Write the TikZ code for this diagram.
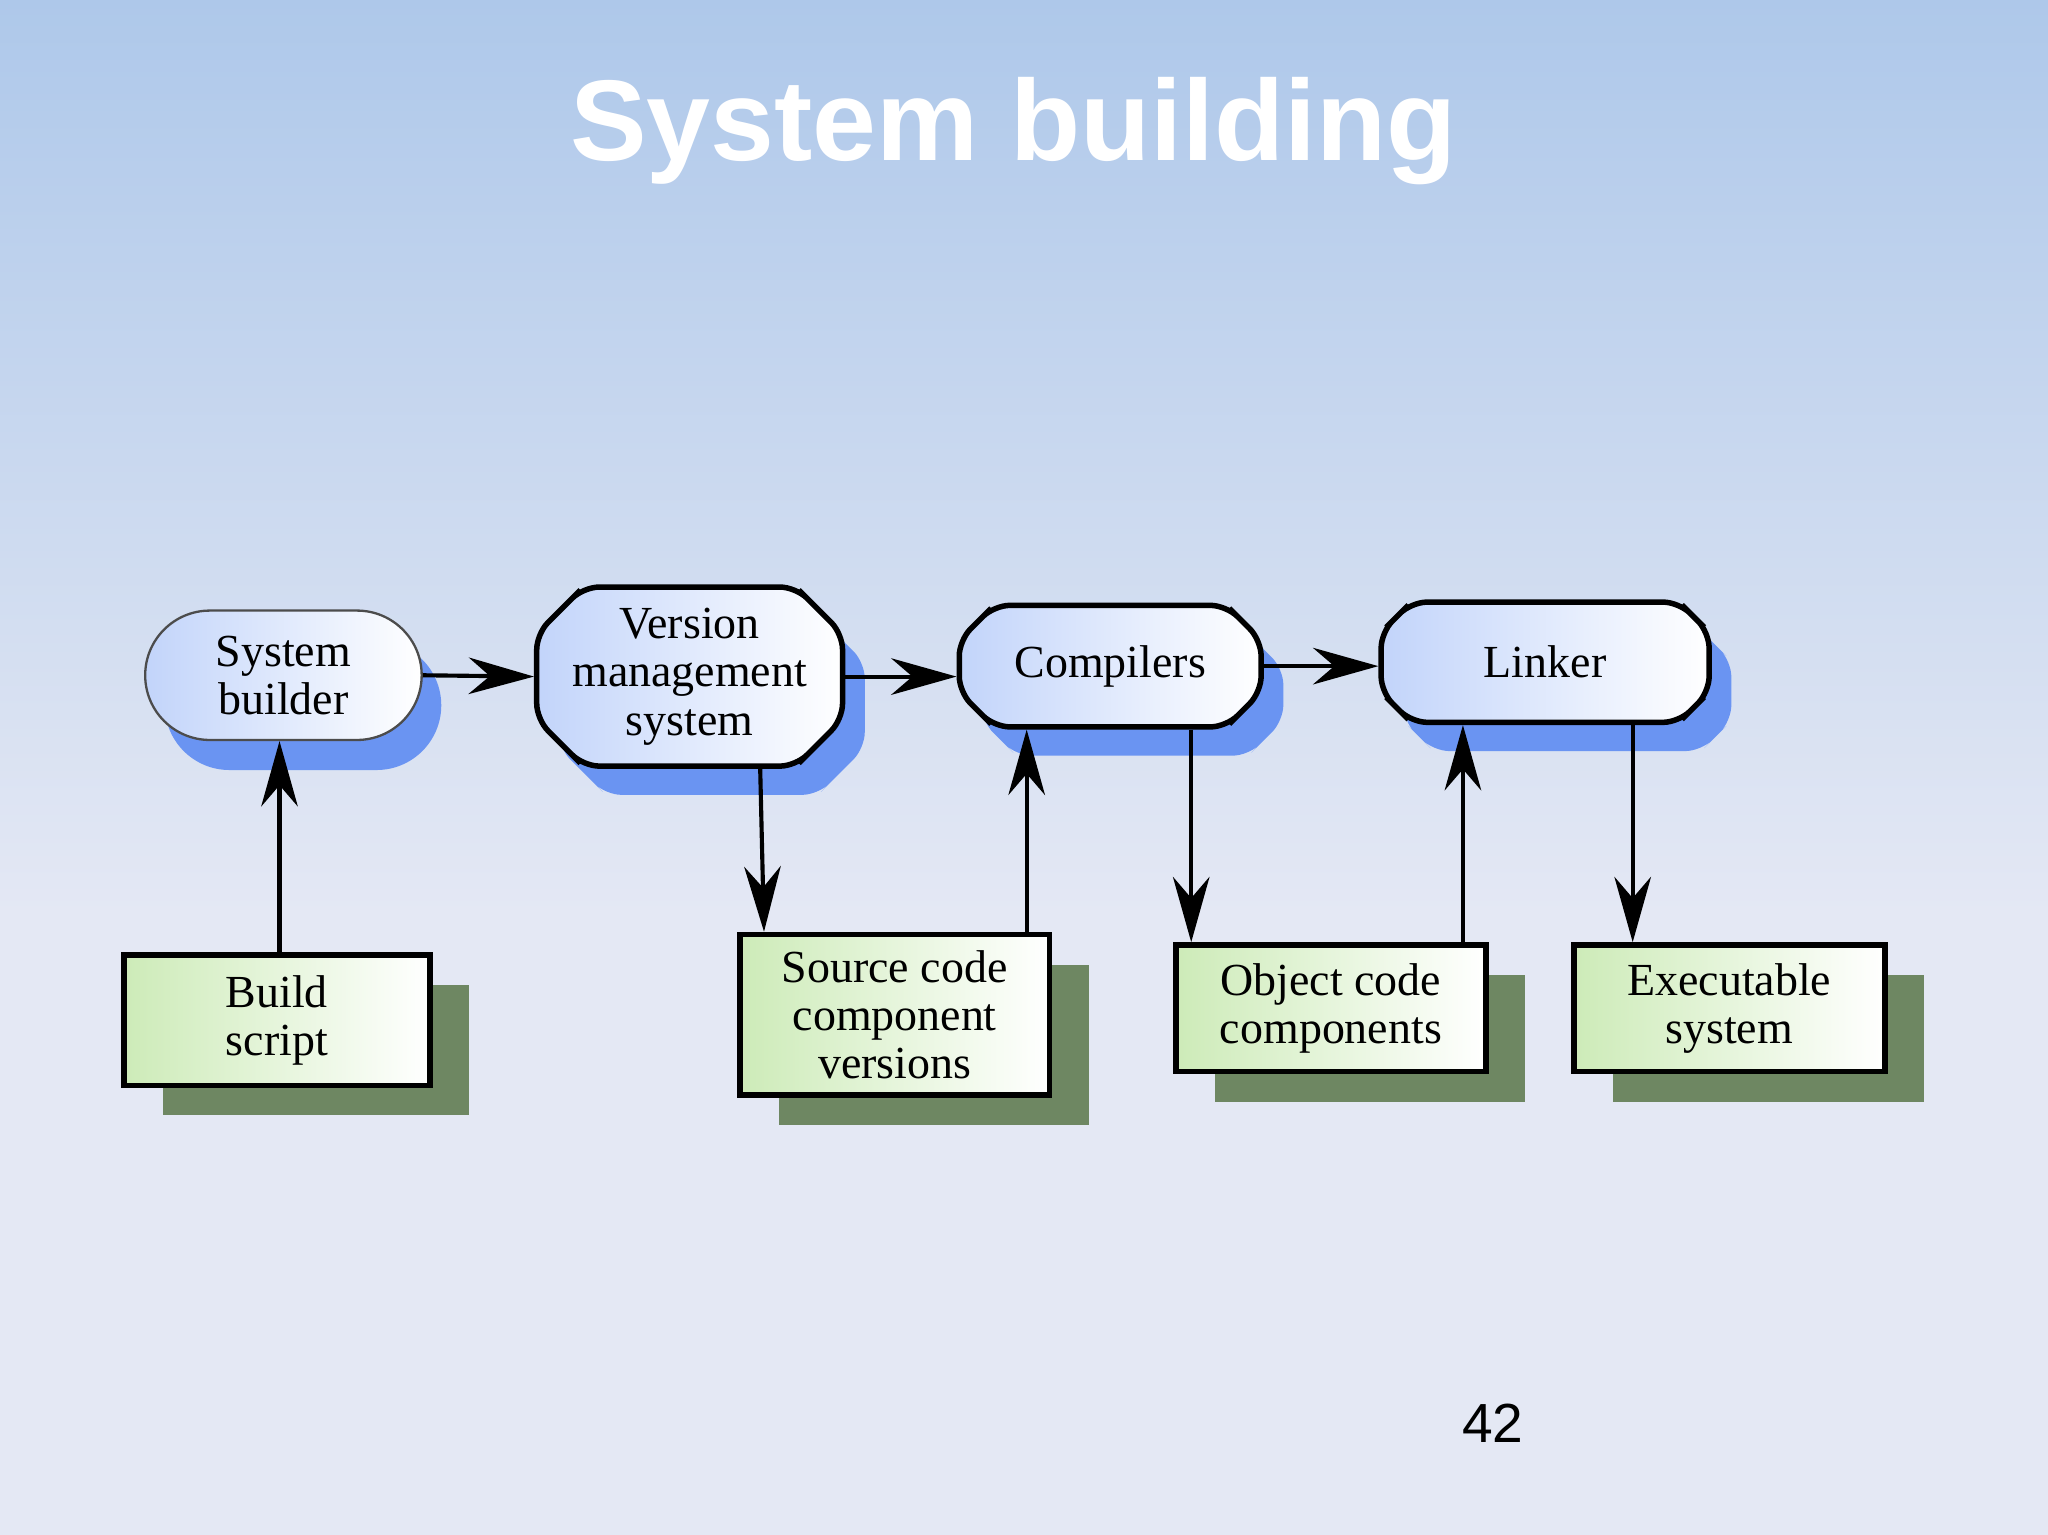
\documentclass[tikz,border=0pt]{standalone}
\usepackage{fontspec}
\setmainfont{Liberation Serif}
\newfontfamily\titlefont{Liberation Sans}
\usetikzlibrary{shapes.misc,shadows,arrows.meta,calc}
\definecolor{bgtop}{HTML}{AEC8EA}
\definecolor{bgbot}{HTML}{E4E8F4}
\definecolor{blueshadow}{HTML}{6A94F2}
\definecolor{boxblue}{HTML}{C2D4FA}
\definecolor{greenshadow}{HTML}{6E8762}
\definecolor{boxgreen}{HTML}{CDEBB8}
\begin{document}
\begin{tikzpicture}[x=0.01cm,y=-0.01cm,
  tool/.style={chamfered rectangle, chamfered rectangle xsep=0.25cm, rounded corners=0.12cm,
    draw=black, line width=1.2pt, inner sep=0pt, align=center, font=\fontsize{10}{10.5}\selectfont,
    left color=boxblue, right color=white,
    drop shadow={shadow xshift=0.17cm, shadow yshift=-0.22cm, fill=blueshadow, opacity=1}},
  data/.style={rectangle, draw=black, line width=1.2pt, inner sep=0pt, align=center,
    font=\fontsize{10}{10.5}\selectfont, left color=boxgreen, right color=white,
    drop shadow={shadow xshift=0.3cm, shadow yshift=-0.23cm, fill=greenshadow, opacity=1}},
  flow/.style={-{Stealth[length=0.5cm,width=0.28cm]}, line width=0.9pt}]
% background
\fill[bgbot] (0,0) rectangle (1568,1175);
\shade[top color=bgtop, bottom color=bgbot] (0,0) rectangle (1568,700);
\useasboundingbox (0,0) rectangle (1568,1175);
\node[font=\titlefont\bfseries\fontsize{25}{30}\selectfont, text=white] (title) at (776,100) {System building};
% tools
\node[rounded rectangle, draw=black!70, line width=0.5pt, left color=boxblue, right color=white,
  minimum width=2.35cm, minimum height=0.99cm, align=center, font=\fontsize{10}{10.5}\selectfont,
  drop shadow={shadow xshift=0.15cm, shadow yshift=-0.23cm, fill=blueshadow, opacity=1}]
  (sb) at (217,517) {System\\builder};
\node[tool, minimum width=2.34cm, minimum height=1.37cm] (vms) at (528,518) {Version\\management\\system};
\node[tool, minimum width=2.31cm, minimum height=0.93cm] (comp) at (850,510) {Compilers};
\node[tool, minimum width=2.51cm, minimum height=0.92cm] (link) at (1183,507) {Linker};
% data
\node[data, minimum width=2.34cm, minimum height=1.0cm] (build) at (212,781) {Build\\script};
\node[data, minimum width=2.37cm, minimum height=1.23cm] (src) at (685,777) {Source code\\component\\versions};
\node[data, minimum width=2.37cm, minimum height=0.97cm] (obj) at (1019,772) {Object code\\components};
\node[data, minimum width=2.38cm, minimum height=0.97cm] (exe) at (1324,772) {Executable\\system};
\node[font=\titlefont\fontsize{12}{14}\selectfont] (page) at (1143,1090) {42};
% connectors
\draw[flow] (sb.east) -- (vms.west);
\draw[flow] (vms.east) -- (vms.east -| comp.west);
\draw[flow] (comp.east) -- (comp.east -| link.west);
\draw[flow] ([xshift=0.02cm]build.north) -- ([xshift=0.02cm]build.north |- sb.south);
\draw[flow] ([xshift=0.54cm]vms.south) -- ([xshift=-1.0cm]src.north);
\draw[flow] ([xshift=1.01cm]src.north) -- ([xshift=1.01cm]src.north |- comp.south);
\draw[flow] ([xshift=0.62cm]comp.south) -- ([xshift=0.62cm]comp.south |- obj.north);
\draw[flow] ([xshift=1.01cm]obj.north) -- ([xshift=1.01cm]obj.north |- link.south);
\draw[flow] ([xshift=0.67cm]link.south) -- ([xshift=0.67cm]link.south |- exe.north);
\end{tikzpicture}
\end{document}
